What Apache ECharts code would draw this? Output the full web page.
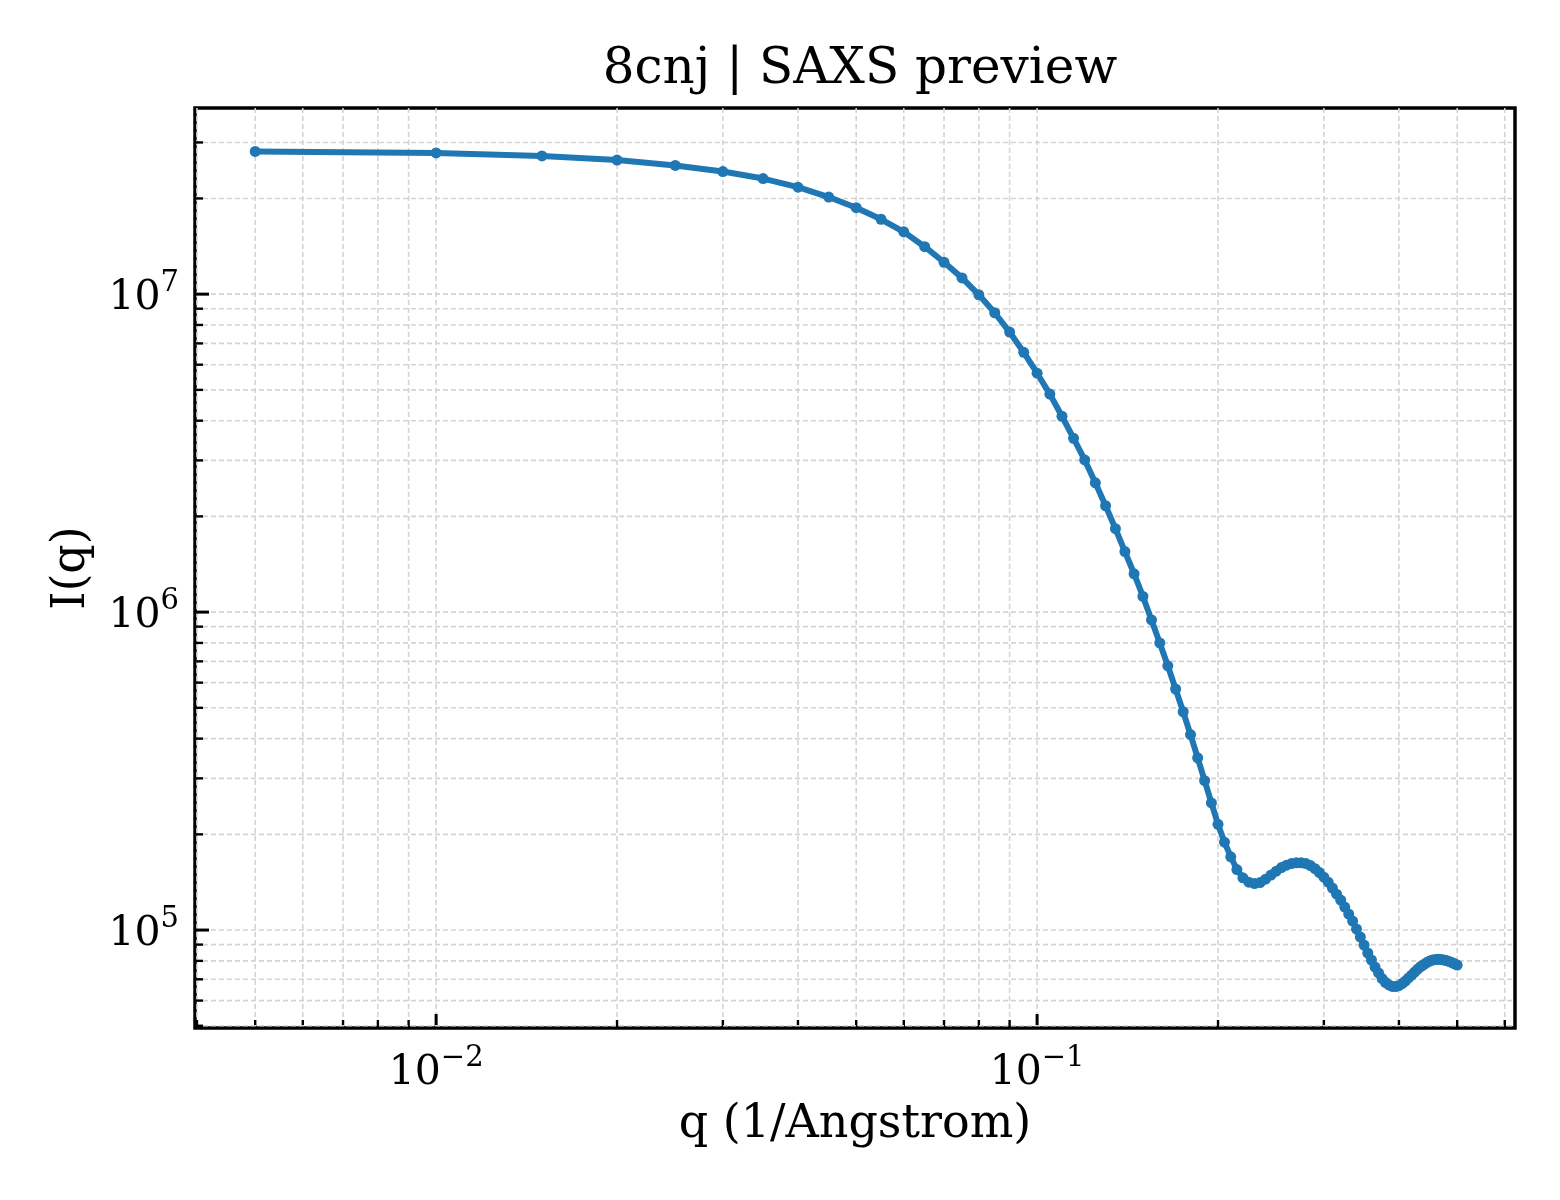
<!DOCTYPE html>
<html>
<head>
<meta charset="utf-8">
<title>8cnj | SAXS preview</title>
<script src="https://cdn.jsdelivr.net/npm/echarts@6/dist/echarts.min.js"></script>
<style>
  html, body { margin: 0; padding: 0; background: #fff; }
  #chart { width: 1560px; height: 1200px; }
</style>
</head>
<body>
<div id="chart"></div>
<script>
// q values (1/Angstrom)
var qValues = [
  0.005, 0.010, 0.015, 0.020, 0.025, 0.030, 0.035, 0.040, 0.045, 0.050,
  0.055, 0.060, 0.065, 0.070, 0.075, 0.080, 0.085, 0.090, 0.095, 0.100,
  0.105, 0.110, 0.115, 0.120, 0.125, 0.130, 0.135, 0.140, 0.145, 0.150,
  0.155, 0.160, 0.165, 0.170, 0.175, 0.180, 0.185, 0.190, 0.195, 0.200,
  0.205, 0.210, 0.215, 0.220, 0.225, 0.230, 0.235, 0.240, 0.245, 0.250,
  0.255, 0.260, 0.265, 0.270, 0.275, 0.280, 0.285, 0.290, 0.295, 0.300,
  0.305, 0.310, 0.315, 0.320, 0.325, 0.330, 0.335, 0.340, 0.345, 0.350,
  0.355, 0.360, 0.365, 0.370, 0.375, 0.380, 0.385, 0.390, 0.395, 0.400,
  0.405, 0.410, 0.415, 0.420, 0.425, 0.430, 0.435, 0.440, 0.445, 0.450,
  0.455, 0.460, 0.465, 0.470, 0.475, 0.480, 0.485, 0.490, 0.495, 0.500
];

// I(q)
var intensity = [
  2.81e7, 2.78e7, 2.72e7, 2.64e7, 2.54e7, 2.43e7, 2.31e7, 2.17e7, 2.02e7, 1.87e7,
  1.72e7, 1.57e7, 1.41e7, 1.26e7, 1.125e7, 9.95e6, 8.74e6, 7.60e6, 6.56e6, 5.64e6,
  4.85e6, 4.13e6, 3.52e6, 3.01e6, 2.55e6, 2.16e6, 1.83e6, 1.55e6, 1.32e6, 1.12e6,
  9.45e5, 8.00e5, 6.78e5, 5.73e5, 4.86e5, 4.12e5, 3.48e5, 2.95e5, 2.51e5, 2.15e5,
  1.89e5, 1.70e5, 1.55e5, 1.46e5, 1.415e5, 1.40e5, 1.41e5, 1.446e5, 1.489e5, 1.532e5,
  1.572e5, 1.60e5, 1.618e5, 1.627e5, 1.627e5, 1.618e5, 1.595e5, 1.56e5, 1.516e5, 1.467e5,
  1.415e5, 1.355e5, 1.297e5, 1.243e5, 1.181e5, 1.123e5, 1.067e5, 1.007e5, 9.51e4, 8.97e4,
  8.47e4, 8.05e4, 7.65e4, 7.33e4, 7.04e4, 6.84e4, 6.72e4, 6.65e4, 6.64e4, 6.69e4,
  6.79e4, 6.91e4, 7.07e4, 7.22e4, 7.38e4, 7.54e4, 7.68e4, 7.79e4, 7.90e4, 7.99e4,
  8.05e4, 8.08e4, 8.09e4, 8.08e4, 8.05e4, 8.02e4, 7.96e4, 7.90e4, 7.83e4, 7.76e4
];

// axis ticks
var xMajorTicks = [0.01, 0.1];
var xMinorTicks = [0.004, 0.005, 0.006, 0.007, 0.008, 0.009,
                   0.02, 0.03, 0.04, 0.05, 0.06, 0.07, 0.08, 0.09,
                   0.2, 0.3, 0.4, 0.5, 0.6];
var yMajorTicks = [1e5, 1e6, 1e7];
var yMinorTicks = [5e4, 6e4, 7e4, 8e4, 9e4,
                   2e5, 3e5, 4e5, 5e5, 6e5, 7e5, 8e5, 9e5,
                   2e6, 3e6, 4e6, 5e6, 6e6, 7e6, 8e6, 9e6,
                   2e7, 3e7];

var xMin = 0.00397, xMax = 0.624;
var yMin = 4.92e4, yMax = 3.85e7;

var FONT = "'DejaVu Serif', 'Liberation Serif', serif";

// guide rows: [x, y, kind(0 = vertical, 1 = horizontal), major(1/0)]
var guides = [];
xMajorTicks.forEach(function (v) { guides.push([v, 1e6, 0, 1]); });
xMinorTicks.forEach(function (v) { guides.push([v, 1e6, 0, 0]); });
yMajorTicks.forEach(function (v) { guides.push([0.01, v, 1, 1]); });
yMinorTicks.forEach(function (v) { guides.push([0.01, v, 1, 0]); });

function powLabel(v) {
    var e = Math.log10(v);
    var r = Math.round(e);
    if (Math.abs(e - r) > 1e-6) return '';
    var s = r < 0 ? '\u2212' + (-r) : '' + r;
    return '{b|10}{s|' + s + '}';
}

var labelRich = {
    b: { fontFamily: FONT, fontSize: 41, color: '#000', verticalAlign: 'bottom', lineHeight: 50 },
    s: { fontFamily: FONT, fontSize: 29, color: '#000', verticalAlign: 'top', lineHeight: 28 }
};

function renderGuides(params, api) {
    var cs = params.coordSys;
    var kind = api.value(2);
    var major = api.value(3) === 1;
    var len = major ? 14 : 8;
    var tw = major ? 3 : 2.4;
    var grid = { stroke: '#d4d4d4', lineWidth: 1.6, lineDash: [5, 3] };
    var tick = { stroke: '#000', lineWidth: tw };
    if (kind === 0) {
        var px = api.coord([api.value(0), api.value(1)])[0];
        var bottom = cs.y + cs.height;
        return {
            type: 'group',
            children: [
                { type: 'line', shape: { x1: px, y1: cs.y, x2: px, y2: bottom }, style: grid },
                { type: 'line', shape: { x1: px, y1: bottom, x2: px, y2: bottom - len }, style: tick }
            ]
        };
    }
    var py = api.coord([api.value(0), api.value(1)])[1];
    return {
        type: 'group',
        children: [
            { type: 'line', shape: { x1: cs.x, y1: py, x2: cs.x + cs.width, y2: py }, style: grid },
            { type: 'line', shape: { x1: cs.x, y1: py, x2: cs.x + len, y2: py }, style: tick }
        ]
    };
}

var chart = echarts.init(document.getElementById('chart'));
chart.setOption({
    animation: false,
    backgroundColor: '#fff',
    title: {
        text: '8cnj | SAXS preview',
        left: 855,
        textAlign: 'center',
        top: 40,
        textStyle: { fontFamily: FONT, fontSize: 50, fontWeight: 'normal', color: '#000' }
    },
    grid: {
        left: 195, right: 45, top: 108, bottom: 172,
        show: true, borderColor: '#000', borderWidth: 3.5, backgroundColor: 'transparent'
    },
    xAxis: {
        type: 'log',
        logBase: 10,
        min: xMin,
        max: xMax,
        name: 'q (1/Angstrom)',
        nameLocation: 'middle',
        nameGap: 74,
        nameTextStyle: { fontFamily: FONT, fontSize: 46, color: '#000' },
        axisLine: { show: false },
        axisTick: { show: false },
        splitLine: { show: false },
        axisLabel: {
            margin: 16,
            formatter: powLabel,
            rich: labelRich,
            showMinLabel: false,
            showMaxLabel: false
        }
    },
    yAxis: {
        type: 'log',
        logBase: 10,
        min: yMin,
        max: yMax,
        name: 'I(q)',
        nameLocation: 'middle',
        nameGap: 100,
        nameRotate: 90,
        nameTextStyle: { fontFamily: FONT, fontSize: 46, color: '#000' },
        axisLine: { show: false },
        axisTick: { show: false },
        splitLine: { show: false },
        axisLabel: {
            margin: 16,
            formatter: powLabel,
            rich: labelRich,
            showMinLabel: false,
            showMaxLabel: false
        }
    },
    series: [
        {
            type: 'custom',
            name: 'guides',
            renderItem: renderGuides,
            data: guides,
            encode: { x: 0, y: 1 },
            silent: true,
            z: 1
        },
        {
            type: 'line',
            name: 'I(q)',
            data: qValues.map(function (q, i) { return [q, intensity[i]]; }),
            showSymbol: true,
            symbol: 'circle',
            symbolSize: 11,
            lineStyle: { color: '#1f77b4', width: 6 },
            itemStyle: { color: '#1f77b4' },
            z: 5
        }
    ]
});
</script>
</body>
</html>
